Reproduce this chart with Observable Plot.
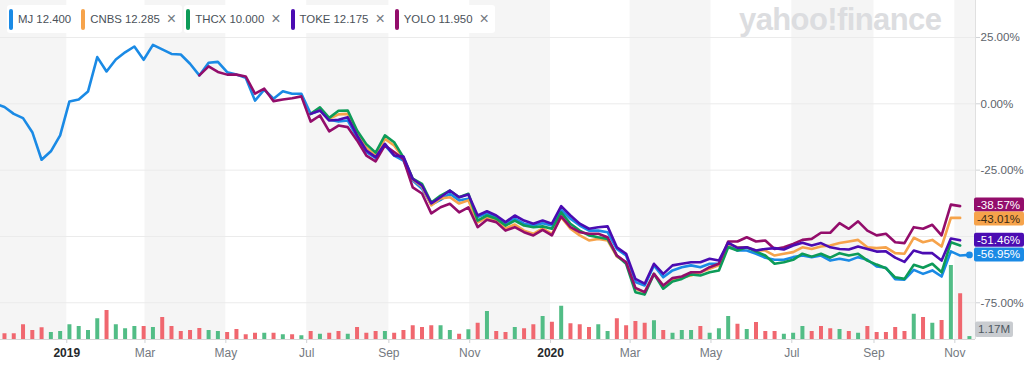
<!DOCTYPE html>
<html>
<head>
<meta charset="utf-8">
<script src="https://cdn.jsdelivr.net/npm/d3@7"></script>
<script src="https://cdn.jsdelivr.net/npm/@observablehq/plot@0.6"></script>
<style>
html,body{margin:0;padding:0;background:#fff;}
#wrap{position:relative;width:1024px;height:366px;overflow:hidden;font-family:"Helvetica Neue",Helvetica,Arial,"Liberation Sans",sans-serif;}
#wrap svg{position:absolute;left:0;top:0;}
#legend{position:absolute;left:7px;top:5px;display:flex;gap:2px;z-index:5;}
.item{display:flex;align-items:center;height:28px;background:#fff;border-radius:3px;padding:0 6px 0 2px;font-size:11.4px;color:#4a5159;white-space:nowrap;}
.item .bar{display:block;width:4px;height:21px;border-radius:2px;margin-right:5px;}
.item .x{margin-left:7px;color:#737a81;font-size:16px;line-height:1;}
#logo{position:absolute;left:739px;top:2px;font-size:31px;font-weight:bold;color:#dcdde0;letter-spacing:-0.6px;z-index:4;}
g[aria-label*="axis"] line, g[aria-label*="axis"] path{stroke:#cfd2d5;}
</style>
</head>
<body>
<div id="wrap">
  <div id="chart"></div>
  <div id="logo">yahoo!finance</div>
  <div id="legend"></div>
</div>
<script>
// ---------------- data ----------------
const symbols = ["MJ", "CNBS", "THCX", "TOKE", "YOLO"];
const legendPrices = [12.400, 12.285, 10.000, 12.175, 11.950];
const closable = [false, true, true, true, true];

// weekly dates: week index 0 = firstWeek
const firstWeek = "2018-11-08";

// percent change, MJ from week 0
const mjPct = [0, -1.2, -3.8, -5.4, -10.7, -21.1, -17.9, -11.9, 0.9, 1.6, 4.6, 17.6, 12.2, 16.7, 19.4, 21.6, 16.6, 22.2, 20.5, 18.8, 18.6, 15.1, 10.7, 15.5, 15.8, 11.9, 11.0, 9.8, 1.2, 5.3, 1.9, 4.7, 3.8, 3.8, -3.8, -2.5, -6.0, -6.7, -6.3, -12.6, -18.2, -20.4, -15.7, -19.5, -21.4, -28.9, -32.0, -38.0, -36.2, -33.9, -36.4, -35.8, -42.7, -41.3, -42.7, -45.0, -43.3, -45.2, -45.9, -45.0, -45.9, -40.0, -43.3, -45.9, -47.8, -47.8, -48.4, -54.7, -57.2, -67.2, -68.5, -60.9, -65.4, -62.8, -61.6, -60.9, -61.6, -60.3, -60.3, -53.4, -55.3, -55.3, -56.5, -58.0, -58.8, -58.8, -57.8, -57.2, -57.8, -57.2, -59.1, -58.4, -59.1, -57.8, -58.8, -61.3, -61.8, -66.1, -66.3, -62.6, -64.1, -62.8, -65.1, -55.6, -57.2, -56.95];

// YOLO from week 22
const yoloStartWeek = 22;
const yoloPct = [10.7, 14.1, 12.0, 11.0, 11.0, 10.3, 3.8, 5.7, 1.0, 1.6, 2.1, 2.8, -6.7, -4.4, -10.4, -8.2, -8.8, -13.8, -19.5, -21.7, -15.7, -18.2, -20.9, -31.5, -33.8, -41.3, -39.0, -37.7, -40.9, -39.0, -46.5, -43.7, -44.6, -47.8, -46.5, -48.4, -49.6, -47.5, -49.6, -42.4, -46.5, -48.4, -49.0, -49.0, -50.3, -57.2, -59.7, -69.4, -71.0, -64.1, -68.5, -65.7, -65.1, -63.5, -63.5, -61.6, -60.3, -51.9, -51.9, -50.3, -51.9, -51.5, -54.7, -54.1, -52.8, -51.3, -50.9, -48.6, -48.6, -45.0, -47.1, -44.3, -47.8, -49.6, -49.0, -52.2, -52.5, -46.5, -47.1, -45.6, -49.6, -38.0, -38.57];

// CNBS, THCX, TOKE from week 34
const laterStartWeek = 34;
const cnbsPct = [-3.8, -1.9, -5.7, -4.0, -3.8, -10.8, -16.5, -19.5, -13.2, -15.7, -20.6, -28.5, -31.2, -38.3, -35.7, -35.2, -37.6, -36.4, -44.7, -42.9, -44.0, -47.0, -45.5, -47.8, -49.0, -47.0, -49.0, -42.7, -47.1, -49.6, -51.5, -50.9, -51.5, -57.6, -59.7, -69.7, -71.0, -64.1, -68.5, -66.6, -65.4, -64.7, -63.5, -62.2, -60.9, -52.8, -54.1, -54.1, -55.3, -55.3, -57.2, -56.5, -55.9, -54.1, -54.7, -53.8, -53.4, -52.5, -51.9, -51.3, -54.1, -54.4, -54.1, -56.3, -56.5, -50.5, -52.2, -51.3, -53.8, -43.0, -43.01];
const thcxPct = [-3.8, -1.3, -5.3, -2.6, -2.5, -10.1, -15.2, -18.4, -11.9, -14.5, -20.2, -28.2, -30.2, -37.2, -34.6, -32.7, -35.2, -33.9, -44.0, -42.1, -43.3, -45.9, -44.0, -45.9, -46.5, -46.2, -47.1, -40.9, -45.2, -47.8, -49.6, -50.3, -50.9, -57.2, -60.3, -71.0, -71.9, -64.1, -69.7, -67.0, -66.0, -64.3, -64.7, -63.5, -62.8, -54.1, -55.3, -54.1, -55.7, -57.2, -60.3, -59.7, -58.8, -56.5, -57.6, -56.5, -58.0, -56.3, -57.2, -56.5, -59.1, -60.6, -62.0, -65.4, -66.0, -60.7, -61.8, -60.3, -63.5, -52.2, -53.4];
const tokePct = [-3.8, -2.5, -6.3, -6.0, -5.1, -11.9, -17.6, -20.1, -15.1, -19.5, -19.9, -28.3, -30.8, -37.5, -35.2, -32.7, -35.2, -34.2, -42.1, -40.5, -42.1, -44.6, -42.1, -44.0, -45.2, -44.0, -45.2, -38.6, -42.1, -45.2, -47.1, -46.5, -46.2, -54.1, -56.5, -66.0, -67.8, -60.3, -64.1, -60.9, -60.3, -59.7, -59.7, -58.4, -59.1, -52.3, -54.3, -54.1, -55.3, -54.7, -54.4, -54.9, -53.4, -52.4, -53.4, -52.5, -54.1, -54.7, -54.9, -53.8, -54.7, -55.7, -55.6, -58.0, -59.6, -55.3, -56.3, -56.3, -59.1, -50.8, -51.46];

// MJ weekly volume (millions), from week 1; direction r = down, g = up
const volStartWeek = 1;
const volumeM = [2.3, 2.3, 5.9, 3.6, 4.7, 2.8, 3.2, 5.9, 5.2, 3.6, 8.3, 11.6, 5.9, 4.3, 5.2, 5.2, 4.8, 8.8, 5.2, 3.2, 3.6, 4.4, 3.6, 3.2, 2.8, 4.0, 1.9, 2.5, 2.5, 2.5, 1.9, 1.9, 1.5, 3.2, 2.1, 2.5, 3.2, 2.1, 4.8, 2.5, 3.2, 3.2, 2.5, 3.6, 5.5, 4.8, 5.5, 5.5, 3.6, 2.1, 3.9, 6.5, 11.2, 3.2, 2.8, 4.8, 4.3, 5.9, 9.2, 6.9, 13.3, 6.3, 5.9, 4.8, 5.9, 3.2, 8.3, 5.5, 7.2, 6.5, 7.5, 3.6, 2.5, 3.6, 3.6, 5.2, 2.5, 4.3, 9.2, 6.1, 4.0, 6.8, 3.2, 3.2, 2.1, 2.5, 5.2, 3.2, 5.2, 4.3, 4.0, 3.2, 2.5, 5.2, 2.8, 2.8, 4.8, 3.2, 10.1, 8.8, 6.5, 7.6, 29.6, 18.3, 1.17];
const volumeDir = "rrrrrggggggrgggrgrrrrrggrrrrgrgrgrgrrgrrrgrrrrrggrgrgrrgrrgrgrrrggrrrrgrgggrgggrgrrrgggrrrgrgrrrrrgrgrgrg";

const xTickDates = ["2019-01-01", "2019-03-01", "2019-05-01", "2019-07-01", "2019-09-01", "2019-11-01", "2020-01-01", "2020-03-01", "2020-05-01", "2020-07-01", "2020-09-01", "2020-11-01"];
const xTickLabels = ["2019", "Mar", "May", "Jul", "Sep", "Nov", "2020", "Mar", "May", "Jul", "Sep", "Nov"];
const yGridValues = [25, 0, -25, -50, -75];
const yTickValues = [25, 0, -25, -75];
const bandStarts = ["2018-11-01", "2019-03-01", "2019-07-01", "2019-11-01", "2020-03-01", "2020-07-01", "2020-11-01"];
const bandEnds   = ["2019-01-01", "2019-05-01", "2019-09-01", "2020-01-01", "2020-05-01", "2020-09-01", "2021-01-01"];
const endLabelSyms = ["YOLO", "CNBS", "TOKE", "MJ"];

// ---------------- styles ----------------
const FONT = '"Helvetica Neue", Helvetica, Arial, "Liberation Sans", sans-serif';
const lineColors = {MJ: "#1a8ae5", CNBS: "#f6a34b", THCX: "#0d9b58", TOKE: "#4b0cb2", YOLO: "#930d6b"};
const labelTextColors = {MJ: "#ffffff", CNBS: "#3a2b17", THCX: "#ffffff", TOKE: "#ffffff", YOLO: "#ffffff"};
const drawOrder = ["MJ", "CNBS", "THCX", "YOLO", "TOKE"];
const volUp = "#52bd86", volDown = "#f0676f";
const xDomain = [new Date("2018-11-12T00:00:00Z"), new Date("2020-11-16T14:00:00Z")];
const yDomain = [-88.84, 38.94];

// ---------------- build tables ----------------
const week0 = new Date(firstWeek + "T00:00:00Z");
const weekDate = i => d3.utcDay.offset(week0, 7 * i);
const seriesDefs = {
  MJ: {start: 0, values: mjPct},
  CNBS: {start: laterStartWeek, values: cnbsPct},
  THCX: {start: laterStartWeek, values: thcxPct},
  TOKE: {start: laterStartWeek, values: tokePct},
  YOLO: {start: yoloStartWeek, values: yoloPct}
};
const rowsBy = {};
for (const s of symbols) {
  const def = seriesDefs[s];
  rowsBy[s] = def.values.map((v, i) => ({sym: s, date: weekDate(def.start + i), pct: v}));
}
const volRows = volumeM.map((v, i) => ({date: weekDate(volStartWeek + i), vol: v, up: volumeDir[i] === "g"}));
const bands = bandStarts.map((s, i) => ({start: new Date(s + "T00:00:00Z"), end: new Date(bandEnds[i] + "T00:00:00Z")}));
const tickDates = xTickDates.map(s => new Date(s + "T00:00:00Z"));
const tickLabelMap = new Map(tickDates.map((d, i) => [+d, xTickLabels[i]]));
const mjLast = rowsBy.MJ[rowsBy.MJ.length - 1];

// ---------------- main chart ----------------
const W = 1024, H = 366, MR = 49, MB = 27;
const chart = Plot.plot({
  width: W, height: H,
  marginLeft: 0, marginRight: MR, marginTop: 0, marginBottom: MB,
  style: {background: "#ffffff", fontFamily: FONT, fontSize: "12px", color: "#6b7178", overflow: "visible"},
  x: {type: "utc", domain: xDomain, ticks: tickDates, tickFormat: d => tickLabelMap.get(+d) ?? "", tickSize: 4, tickPadding: 5, label: null},
  y: {domain: yDomain, axis: "right", ticks: yTickValues, tickFormat: d => d.toFixed(2) + "%", tickSize: 4, tickPadding: 1, label: null},
  marks: [
    Plot.rect(bands, {x1: "start", x2: "end", fill: "#f5f5f5", clip: true}),
    Plot.ruleY(yGridValues, {stroke: "#ebebeb", strokeWidth: 1}),
    Plot.ruleY([yDomain[0]], {stroke: "#d6d6d6"}),
    Plot.ruleX([xDomain[1]], {stroke: "#e0e0e0"}),
    ...drawOrder.map(s => Plot.line(rowsBy[s], {x: "date", y: "pct", stroke: lineColors[s], strokeWidth: 2.6, clip: true})),
    Plot.dot([mjLast], {x: "date", y: "pct", r: 3.4, fill: lineColors.MJ})
  ]
});
document.getElementById("chart").appendChild(chart);

// ---------------- volume overlay ----------------
const volPlot = Plot.plot({
  width: W, height: H,
  marginLeft: 0, marginRight: MR, marginTop: 239, marginBottom: MB,
  style: {background: "transparent", fontFamily: FONT, fontSize: "12px", overflow: "visible"},
  x: {type: "utc", domain: xDomain, axis: null},
  y: {domain: [0, 40], axis: null},
  marks: [
    Plot.ruleX(volRows.filter(d => d.up), {x: "date", y1: 0, y2: "vol", stroke: volUp, strokeWidth: 4}),
    Plot.ruleX(volRows.filter(d => !d.up), {x: "date", y1: 0, y2: "vol", stroke: volDown, strokeWidth: 4})
  ]
});
document.getElementById("chart").appendChild(volPlot);

// ---------------- axis label styling ----------------
d3.select(chart).selectAll("text").each(function () {
  const t = this.textContent.trim();
  if (/^\d{4}$/.test(t)) d3.select(this).attr("font-weight", "bold").attr("fill", "#26292c");
  else if (/%$/.test(t)) d3.select(this).attr("fill", "#5d646b").attr("font-size", "11.6px");
  else d3.select(this).attr("fill", "#74797f");
});

// ---------------- end labels & volume label ----------------
const sy = chart.scale("y");
const yPix = d3.scaleLinear(sy.domain, sy.range);
const sx = chart.scale("x");
const frameRight = Math.max(...sx.range);
const ov = d3.select(volPlot).append("g")
  .attr("font-family", FONT).attr("font-size", 11.6).attr("text-anchor", "start");

// label positions, nudged apart so boxes do not cover each other's text
const MIN_GAP = 14;
const labels = endLabelSyms.map(s => {
  const rows = rowsBy[s];
  const v = rows[rows.length - 1].pct;
  return {sym: s, v, yc: yPix(v)};
}).sort((a, b) => a.yc - b.yc);
for (let pass = 0; pass < 4; pass++) {
  for (let i = 1; i < labels.length; i++) {
    const gap = labels[i].yc - labels[i - 1].yc;
    if (gap < MIN_GAP) {
      const shift = (MIN_GAP - gap) / 2;
      labels[i - 1].yc -= shift;
      labels[i].yc += shift;
    }
  }
}
for (const L of labels) {
  const g = ov.append("g");
  g.append("rect").attr("x", frameRight - 1).attr("y", L.yc - 7).attr("width", W - frameRight + 1).attr("height", 14).attr("rx", 2).attr("fill", lineColors[L.sym]);
  g.append("text").attr("x", frameRight + 2).attr("y", L.yc).attr("dy", "0.35em").attr("text-anchor", "start").attr("fill", labelTextColors[L.sym]).text(L.v.toFixed(2) + "%");
}
const svy = volPlot.scale("y");
const vBase = Math.max(...svy.range);
const lastVol = volumeM[volumeM.length - 1];
const vg = ov.append("g");
vg.append("rect").attr("x", frameRight).attr("y", vBase - 17.5).attr("width", 38).attr("height", 15.5).attr("rx", 2).attr("fill", "#c9ccd0");
vg.append("text").attr("x", frameRight + 3).attr("y", vBase - 9.75).attr("dy", "0.35em").attr("text-anchor", "start").attr("fill", "#4f5861").text(lastVol.toFixed(2) + "M");

// ---------------- legend ----------------
const legend = d3.select("#legend");
symbols.forEach((s, i) => {
  const it = legend.append("div").attr("class", "item");
  it.append("span").attr("class", "bar").style("background", lineColors[s]);
  it.append("span").text(`${s} ${legendPrices[i].toFixed(3)}`);
  if (closable[i]) it.append("span").attr("class", "x").text("×");
});
</script>
</body>
</html>
